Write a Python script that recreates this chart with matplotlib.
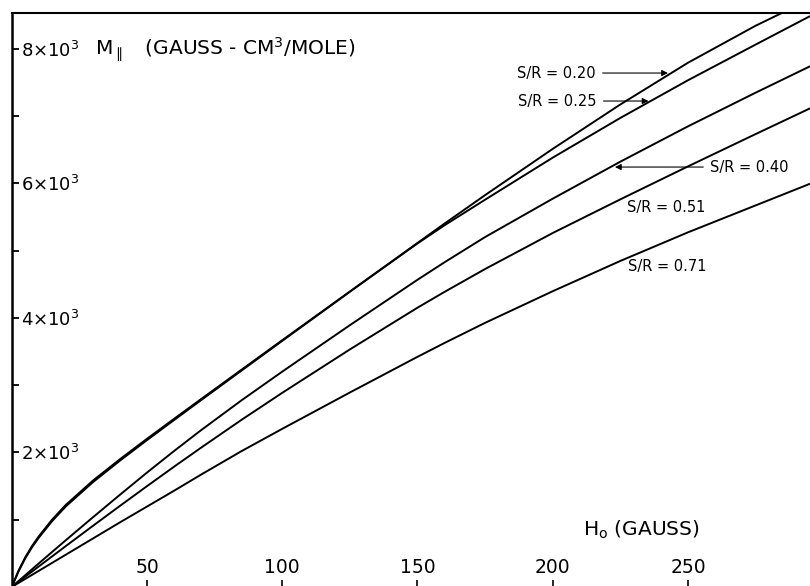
import matplotlib
matplotlib.use("Agg")
import matplotlib.pyplot as plt

# ---- data ----
H = [0, 2.5, 5, 7.5, 10, 15, 20, 30, 40, 50, 60, 70, 85, 100, 125, 150, 160, 175, 200, 225, 250, 275, 295]
M_020 = [0, 230, 425, 590, 732, 982, 1197, 1557, 1877, 2182, 2480, 2776, 3217, 3657, 4387, 5112, 5400, 5823, 6510, 7170, 7790, 8340, 8730]
M_025 = [0, 240, 440, 608, 752, 1004, 1220, 1580, 1898, 2202, 2498, 2792, 3230, 3667, 4390, 5105, 5375, 5755, 6380, 6970, 7530, 8060, 8480]
M_040 = [0, 88, 175, 263, 350, 523, 695, 1035, 1370, 1700, 2020, 2330, 2775, 3200, 3890, 4565, 4825, 5200, 5770, 6320, 6845, 7345, 7735]
M_051 = [0, 76, 153, 229, 305, 457, 608, 908, 1205, 1498, 1787, 2070, 2485, 2885, 3530, 4150, 4385, 4725, 5260, 5760, 6250, 6730, 7110]
M_071 = [0, 60, 120, 180, 240, 360, 480, 720, 960, 1195, 1430, 1670, 2020, 2350, 2890, 3420, 3626, 3925, 4395, 4845, 5270, 5670, 5990]

x_ticks = [50, 100, 150, 200, 250]
x_tick_labels = ["50", "100", "150", "200", "250"]
y_major = [2000, 4000, 6000, 8000]
y_major_labels = ["2×10$^3$", "4×10$^3$", "6×10$^3$", "8×10$^3$"]
y_minor = [1000, 3000, 5000, 7000]

curve_labels = ["S/R = 0.20", "S/R = 0.25", "S/R = 0.40", "S/R = 0.51", "S/R = 0.71"]

plt.rcParams['font.family'] = ['DejaVu Sans']
plt.rcParams['mathtext.fontset'] = 'dejavusans'

fig = plt.figure(figsize=(8.1, 5.86), dpi=100)
ax = fig.add_axes([11.7 / 810, -1 / 586, 798.3 / 810, 574 / 586])

for M in (M_020, M_025, M_040, M_051, M_071):
    ax.plot(H, M, color='black', lw=1.4, solid_capstyle='round', solid_joinstyle='round')

ax.set_xlim(0, 295.1)
ax.set_ylim(0, 8529)

# spines
ax.spines['right'].set_visible(False)
ax.spines['bottom'].set_visible(False)
ax.spines['left'].set_linewidth(1.8)
ax.spines['top'].set_linewidth(1.5)

# ticks
ax.set_xticks(x_ticks)
ax.set_xticklabels(x_tick_labels)
ax.set_yticks(y_major)
ax.set_yticklabels(y_major_labels)
ax.set_yticks(y_minor, minor=True)
ax.tick_params(axis='x', direction='in', length=5, width=1.2, pad=-10, labelsize=13.5)
ax.tick_params(axis='y', which='both', direction='in', length=5, width=1.3, pad=-6.7, labelsize=13)
for lbl in ax.get_xticklabels():
    lbl.set_verticalalignment('baseline')
for lbl in ax.get_yticklabels():
    lbl.set_horizontalalignment('left')

# axis titles
fig.text(95 / 810, 1 - 55 / 586, r"M$_{\parallel}$   (GAUSS - CM$^3$/MOLE)", fontsize=14.5, va='baseline', ha='left')
fig.text(583 / 810, 1 - 536 / 586, r"H$_{\mathrm{o}}$ (GAUSS)", fontsize=14.5, va='baseline', ha='left')

# curve annotations
arrow = dict(arrowstyle='-|>', color='black', lw=0.8, mutation_scale=9, shrinkA=3, shrinkB=0)
fs = 10.5
ax.annotate(curve_labels[0], xy=(242.6, 7637), xytext=(186.8, 7637), fontsize=fs,
            va='center', ha='left', arrowprops=arrow)
ax.annotate(curve_labels[1], xy=(235.4, 7221), xytext=(187.2, 7221), fontsize=fs,
            va='center', ha='left', arrowprops=arrow)
ax.annotate(curve_labels[2], xy=(223.0, 6240), xytext=(258.2, 6240), fontsize=fs,
            va='center', ha='left', arrowprops=arrow)
ax.text(227.5, 5646, curve_labels[3], fontsize=fs, va='center', ha='left')
ax.text(227.8, 4755, curve_labels[4], fontsize=fs, va='center', ha='left')

fig.savefig('out.png', dpi=100)
